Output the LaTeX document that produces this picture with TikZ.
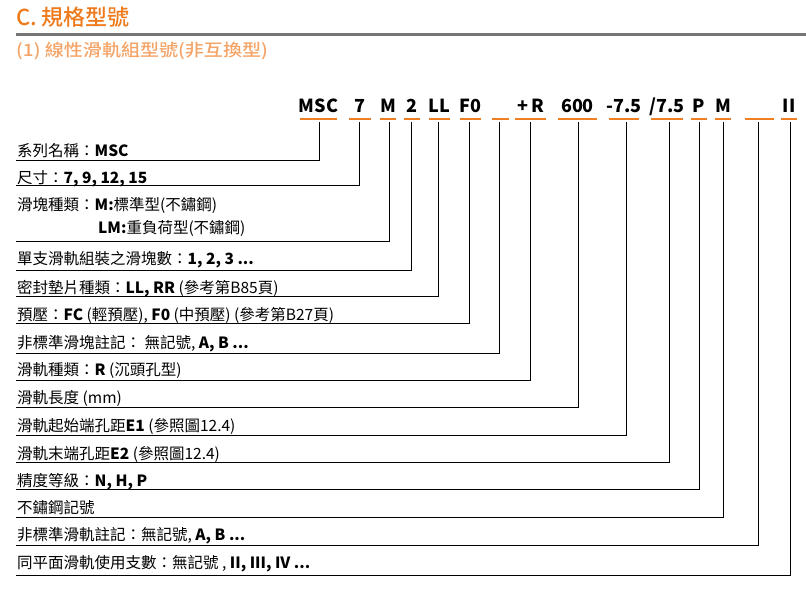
\documentclass[tikz,border=0pt]{standalone}
\usepackage{fontspec}
\setmainfont{Noto Sans CJK TC}
\newfontfamily\medfont{Noto Sans CJK TC Medium}
\newfontfamily\stretchfont[FakeStretch=1.12]{Noto Sans CJK TC Medium}
\definecolor{titleorange}{HTML}{EE7A1C}
\definecolor{subor}{HTML}{F5A468}
\definecolor{lineor}{HTML}{F07E22}
\definecolor{rulegray}{HTML}{757575}
\newcommand{\lb}[1]{{\bfseries #1}}
\tikzset{
  codetxt/.style={font=\fontsize{18}{18}\selectfont\bfseries, inner sep=0pt, anchor=base},
  labeltxt/.style={font=\fontsize{15.5}{16}\selectfont, inner sep=0pt, anchor=base west},
  uline/.style={draw=lineor, line width=2pt},
  conn/.style={draw=black, line width=0.9pt},
}
\begin{document}
\begin{tikzpicture}[x=1pt,y=-1pt]
\useasboundingbox (0,0) rectangle (806,595);
% title
\node[anchor=base west, inner sep=0pt, text=titleorange, font=\medfont\fontsize{22}{22}\selectfont] (title) at (16,25.5) {C. 規格型號};
\draw[rulegray, line width=3pt] (16,34) -- (806,34);
\node[anchor=base west, inner sep=0pt, text=subor, font=\stretchfont\fontsize{17}{17}\selectfont] (sub) at (16,56) {(1) 線性滑軌組型號(非互換型)};
% codes
\foreach \i/\xa/\xb/\t in {1/300/337/MSC, 2/349/371/7, 3/380/396/M, 4/404/420/2, 5/429/450/LL, 6/460/481/F0, 7/492/509/{}, 8/515/546/{+\,R}, 9/558/597/600, 10/609/639/-7.5, 11/651/683/{/7.5}, 12/691/707/P, 13/715/731/M, 14/745/774/{}, 15/781/797/II}{
  \node[codetxt] (c\i) at ({(\xa+\xb)/2},112) {\t};
  \draw[uline] (\xa,119.3) -- (\xb,119.3);
}
% labels
\node[labeltxt] (l1) at (17,156) {系列名稱：\lb{MSC}};
\node[labeltxt] (l2) at (17,183) {尺寸：\lb{7, 9, 12, 15}};
\node[labeltxt] (l3) at (17,210) {滑塊種類：\lb{M:}標準型(不鏽鋼)};
\node[labeltxt] (l3b) at (98,233) {\lb{LM:}重負荷型(不鏽鋼)};
\node[labeltxt] (l4) at (17,264) {單支滑軌組裝之滑塊數：\lb{1, 2, 3 ...}};
\node[labeltxt] (l5) at (17,293) {密封墊片種類：\lb{LL, RR} (參考第B85頁)};
\node[labeltxt] (l6) at (17,320) {預壓：\lb{FC} (輕預壓), \lb{F0} (中預壓) (參考第B27頁)};
\node[labeltxt] (l7) at (17,348) {非標準滑塊註記： 無記號, \lb{A, B ...}};
\node[labeltxt] (l8) at (17,375) {滑軌種類：\lb{R} (沉頭孔型)};
\node[labeltxt] (l9) at (17,403) {滑軌長度 (mm)};
\node[labeltxt] (l10) at (17,431) {滑軌起始端孔距\lb{E1} (參照圖12.4)};
\node[labeltxt] (l11) at (17,459) {滑軌末端孔距\lb{E2} (參照圖12.4)};
\node[labeltxt] (l12) at (17,486) {精度等級：\lb{N, H, P}};
\node[labeltxt] (l13) at (17,513) {不鏽鋼記號};
\node[labeltxt] (l14) at (17,540) {非標準滑軌註記：無記號, \lb{A, B ...}};
\node[labeltxt] (l15) at (17,568) {同平面滑軌使用支數：無記號 , \lb{II, III, IV ...}};
% connectors
\foreach \i/\vx/\hy in {1/319/160, 2/359/185, 3/389/241, 4/411.7/270, 5/438/296, 6/469/323, 7/499/353, 8/530/380, 9/578/407, 10/626/435, 11/669/462, 12/699/489, 13/723/517, 14/758.5/545, 15/790/575}{
  \coordinate (t\i) at (\vx,122);
  \coordinate (e\i) at (16,\hy);
  \draw[conn] (t\i) |- (e\i);
}
\end{tikzpicture}
\end{document}
